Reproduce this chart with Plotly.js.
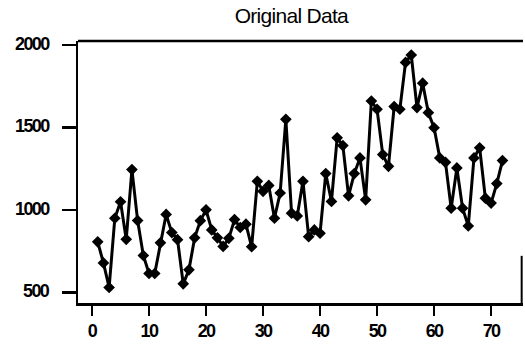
<!DOCTYPE html>
<html>
<head>
<meta charset="utf-8">
<script src="https://cdn.plot.ly/plotly-3.0.1.min.js"></script>
<style>
  html, body { margin: 0; padding: 0; background: #fff; }
  #chart { width: 525px; height: 356px; }
  .xtick text, .annotation-text { letter-spacing: -1.6px; }
  .gtitle { letter-spacing: -0.7px; }
</style>
</head>
<body>
<div id="chart"></div>
<script>
// Time index and the observed series
const period = Array.from({length: 72}, (_, i) => i + 1);
const observed = [
  806, 678, 529, 949, 1049, 821, 1244, 935, 723, 614,
  614, 800, 972, 862, 819, 551, 636, 830, 934, 1000,
  878, 830, 778, 827, 941, 893, 913, 776, 1173, 1112,
  1148, 949, 1102, 1549, 980, 963, 1173, 837, 878, 858,
  1220, 1051, 1437, 1390, 1085, 1220, 1315, 1061, 1660, 1610,
  1335, 1264, 1626, 1610, 1894, 1939, 1620, 1768, 1589, 1498,
  1315, 1288, 1010, 1254, 1010, 902, 1315, 1376, 1071, 1041,
  1159, 1299
];
const xTicks = [0, 10, 20, 30, 40, 50, 60, 70];
const yTicks = [500, 1000, 1500, 2000];

const tickFont = {family: 'Liberation Sans, Arial, sans-serif', size: 18, color: '#000', weight: 'bold'};

const trace = {
  x: period,
  y: observed,
  type: 'scatter',
  mode: 'lines+markers',
  line: {color: '#000', width: 3},
  marker: {symbol: 'diamond', size: 9, color: '#000'},
  hoverinfo: 'skip'
};

// y tick labels, placed on the y scale with a wider gap to the tick marks
const yLabels = yTicks.map(v => ({
  text: String(v),
  xref: 'paper', x: 0, xanchor: 'right', xshift: -26,
  yref: 'y', y: v, yanchor: 'middle', yshift: 1,
  showarrow: false,
  font: tickFont
}));

const layout = {
  width: 525,
  height: 356,
  margin: {l: 78, r: 2, t: 41, b: 53},
  paper_bgcolor: '#fff',
  plot_bgcolor: '#fff',
  showlegend: false,
  title: {
    text: 'Original Data',
    font: {family: 'Liberation Sans, Arial, sans-serif', size: 21, color: '#000'},
    x: 0.555, xanchor: 'center',
    y: 0.955, yanchor: 'middle'
  },
  xaxis: {
    range: [-2.46, 75.6],
    tickvals: xTicks,
    ticktext: xTicks.map(String),
    ticks: 'outside', ticklen: 10, tickwidth: 2.5, tickcolor: '#000',
    showline: true, linecolor: '#000', linewidth: 2.5, mirror: false,
    showgrid: false, zeroline: false,
    tickfont: tickFont
  },
  yaxis: {
    range: [435, 2024],
    tickvals: yTicks,
    showticklabels: false,
    ticks: 'outside', ticklen: 14, tickwidth: 2.5, tickcolor: '#000',
    showline: true, linecolor: '#000', linewidth: 2.5, mirror: false,
    showgrid: false, zeroline: false
  },
  annotations: yLabels,
  shapes: [
    // top frame line
    {type: 'line', xref: 'paper', yref: 'paper', x0: 0, x1: 1, y0: 1, y1: 1,
     line: {color: '#000', width: 2.5}},
    // short right frame segment near the bottom
    {type: 'line', xref: 'paper', yref: 'paper', x0: 0.997, x1: 0.997, y0: 0, y1: 0.18,
     line: {color: '#000', width: 2}}
  ]
};

Plotly.newPlot('chart', [trace], layout, {staticPlot: true, displayModeBar: false});
</script>
</body>
</html>
